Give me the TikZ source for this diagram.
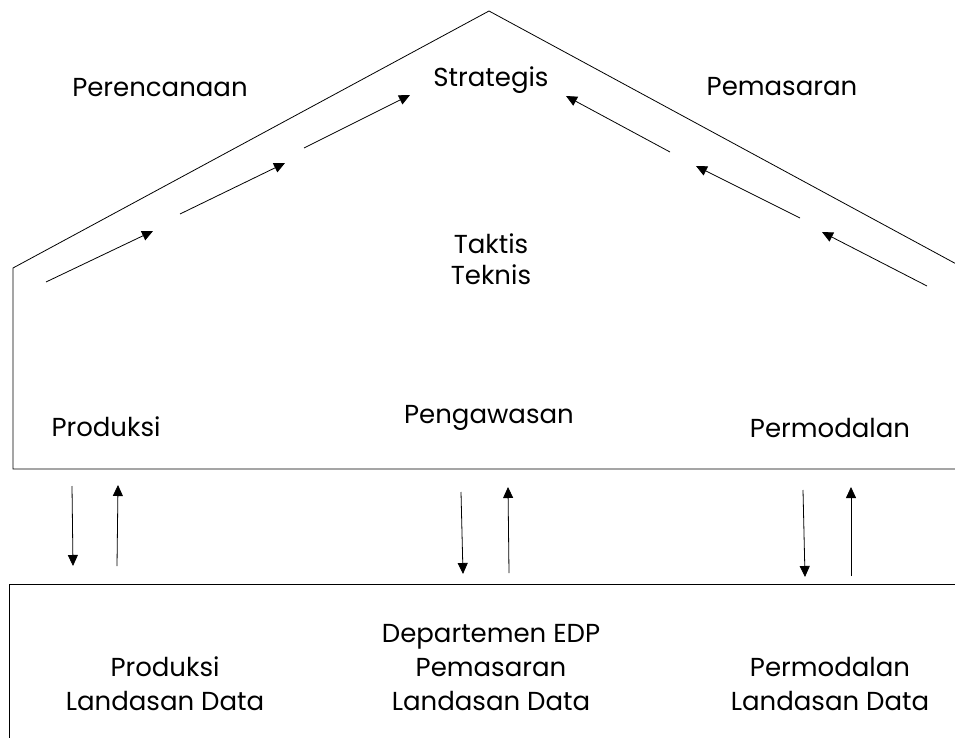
\documentclass[tikz,border=0pt]{standalone}
\usepackage{fontspec}
\setmainfont{Poppins}
\usetikzlibrary{arrows.meta}
\begin{document}
\begin{tikzpicture}[x=1pt,y=-1pt,
  outline/.style={line width=0.8pt,draw=black},
  flow/.style={line width=0.8pt,-{Triangle[length=11pt,width=10pt]}},
  lbl/.style={font=\fontsize{26}{34}\selectfont\rmfamily,align=center,inner sep=0pt}]
\useasboundingbox (0,0) rectangle (955,738);

% house: roof and walls of the upper level
\coordinate (apex) at (489,11);
\coordinate (eaveL) at (13,268);
\coordinate (eaveR) at (960,266);
\coordinate (floorL) at (13,469);
\coordinate (floorR) at (955,469);
\draw[outline] (eaveR) -- (apex) -- (eaveL) -- (floorL) -- (floorR);

% lower box (data bases)
\coordinate (baseTR) at (955,584);
\coordinate (baseTL) at (9,584);
\coordinate (baseBL) at (9,740);
\draw[outline] (baseTR) -- (baseTL) -- (baseBL);

% arrows rising along the left roof
\coordinate (l1a) at (46,282);  \coordinate (l1b) at (153,231);
\coordinate (l2a) at (180,214); \coordinate (l2b) at (285,163);
\coordinate (l3a) at (304,148); \coordinate (l3b) at (410,95);
\draw[flow] (l1a) -- (l1b);
\draw[flow] (l2a) -- (l2b);
\draw[flow] (l3a) -- (l3b);

% arrows rising along the right roof
\coordinate (r1a) at (927,286); \coordinate (r1b) at (822,232);
\coordinate (r2a) at (800,218); \coordinate (r2b) at (696,166);
\coordinate (r3a) at (670,152); \coordinate (r3b) at (566,96);
\draw[flow] (r1a) -- (r1b);
\draw[flow] (r2a) -- (r2b);
\draw[flow] (r3a) -- (r3b);

% vertical exchanges between the two levels
\coordinate (d1a) at (72,486);  \coordinate (d1b) at (73,566);
\coordinate (u1a) at (117,566); \coordinate (u1b) at (118,485);
\coordinate (d2a) at (461,492); \coordinate (d2b) at (463,574);
\coordinate (u2a) at (509,573); \coordinate (u2b) at (508,487);
\coordinate (d3a) at (803,490); \coordinate (d3b) at (805,577);
\coordinate (u3a) at (851,576); \coordinate (u3b) at (851,487);
\draw[flow] (d1a) -- (d1b);
\draw[flow] (u1a) -- (u1b);
\draw[flow] (d2a) -- (d2b);
\draw[flow] (u2a) -- (u2b);
\draw[flow] (d3a) -- (d3b);
\draw[flow] (u3a) -- (u3b);

% labels of the upper level
\node[lbl] (perencanaan) at (160,88) {Perencanaan};
\node[lbl] (strategis) at (491,80) {Strategis};
\node[lbl] (pemasaran) at (782,87) {Pemasaran};
\node[lbl] (taktis) at (491,244) {Taktis};
\node[lbl] (teknis) at (491,275) {Teknis};
\node[lbl] (produksi) at (106,427) {Produksi};
\node[lbl] (pengawasan) at (489,418) {Pengawasan};
\node[lbl] (permodalan) at (830,428) {Permodalan};

% labels of the lower level
\node[lbl] (dbprod) at (165,684) {Produksi\\Landasan Data};
\node[lbl] (dbedp) at (491,668) {Departemen EDP\\Pemasaran\\Landasan Data};
\node[lbl] (dbmodal) at (830,684) {Permodalan\\Landasan Data};
\end{tikzpicture}
\end{document}
